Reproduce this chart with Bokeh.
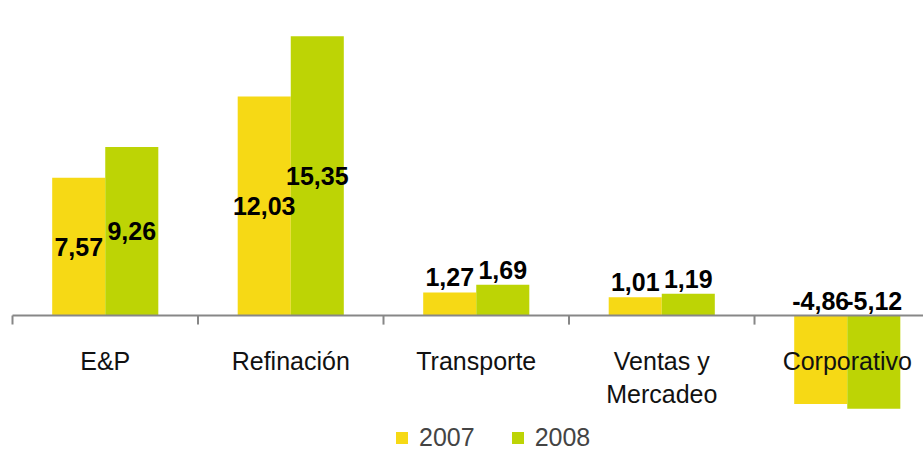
from bokeh.plotting import figure
from bokeh.models import ColumnDataSource, Range1d, Legend, LegendItem
from bokeh.core.properties import value
from bokeh.embed import file_html
from bokeh.resources import INLINE

categories = ["E&P", "Refinación", "Transporte", "Ventas y\nMercadeo", "Corporativo"]
series = ["2007", "2008"]
v2007 = [7.57, 12.03, 1.27, 1.01, -4.86]
v2008 = [9.26, 15.35, 1.69, 1.19, -5.12]
colors = ["#F6D915", "#BDD405"]

FONT = "Liberation Sans"

p = figure(width=923, height=452, output_backend="svg", toolbar_location=None,
           x_range=Range1d(-0.5647, 4.411), y_range=Range1d(-7.527, 17.308),
           x_axis_type=None, y_axis_type=None, min_border=0,
           outline_line_color=None, background_fill_color="white")

idx = list(range(len(categories)))
offsets = [-0.143, 0.143]
bar_w = 0.286

renderers = []
label_sets = []
for name, vals, col, off in zip(series, [v2007, v2008], colors, offsets):
    xs = [i + off for i in idx]
    src = ColumnDataSource(dict(x=xs, top=vals))
    r = p.vbar(x="x", top="top", bottom=0, width=bar_w, source=src,
               fill_color=col, line_color=None)
    renderers.append(r)
    inside = dict(x=[], y=[], t=[])
    above = dict(x=[], y=[], t=[])
    for x, v in zip(xs, vals):
        txt = f"{v:.2f}".replace(".", ",")
        if v >= 3:
            inside["x"].append(x); inside["y"].append(v / 2); inside["t"].append(txt)
        else:
            above["x"].append(x); above["y"].append(max(v, 0)); above["t"].append(txt)
    label_sets.append((inside, above))

# category axis line and boundary ticks
bounds = [i - 0.5 for i in range(len(categories) + 1)]
p.segment(x0=[bounds[0]], y0=[0], x1=[bounds[-1]], y1=[0],
          line_color="#878787", line_width=2)
p.segment(x0=bounds, y0=[0] * len(bounds), x1=bounds, y1=[-0.5] * len(bounds),
          line_color="#878787", line_width=2)

# category labels
p.text(x=idx, y=[0] * len(idx), text=categories, y_offset=31,
       text_align="center", text_baseline="top",
       text_font=value(FONT), text_font_size="25px", text_color="#111111",
       text_line_height=1.18)

# value labels
for inside, above in label_sets:
    p.text(x="x", y="y", text="t", source=ColumnDataSource(inside),
           text_align="center", text_baseline="middle",
           text_font=value(FONT), text_font_size="25px", text_font_style="bold",
           text_color="black")
    p.text(x="x", y="y", text="t", source=ColumnDataSource(above),
           text_align="center", text_baseline="bottom", y_offset=-6,
           text_font=value(FONT), text_font_size="25px", text_font_style="bold",
           text_color="black")

legend = Legend(items=[LegendItem(label=s, renderers=[r]) for s, r in zip(series, renderers)],
                orientation="horizontal", location=(394, 0),
                glyph_width=15, glyph_height=15, label_standoff=10, spacing=35,
                label_text_font=FONT, label_text_font_size="25px",
                padding=0, margin=0, border_line_alpha=0, background_fill_alpha=0)
p.add_layout(legend)

open("out.html", "w").write(file_html(p, INLINE))
